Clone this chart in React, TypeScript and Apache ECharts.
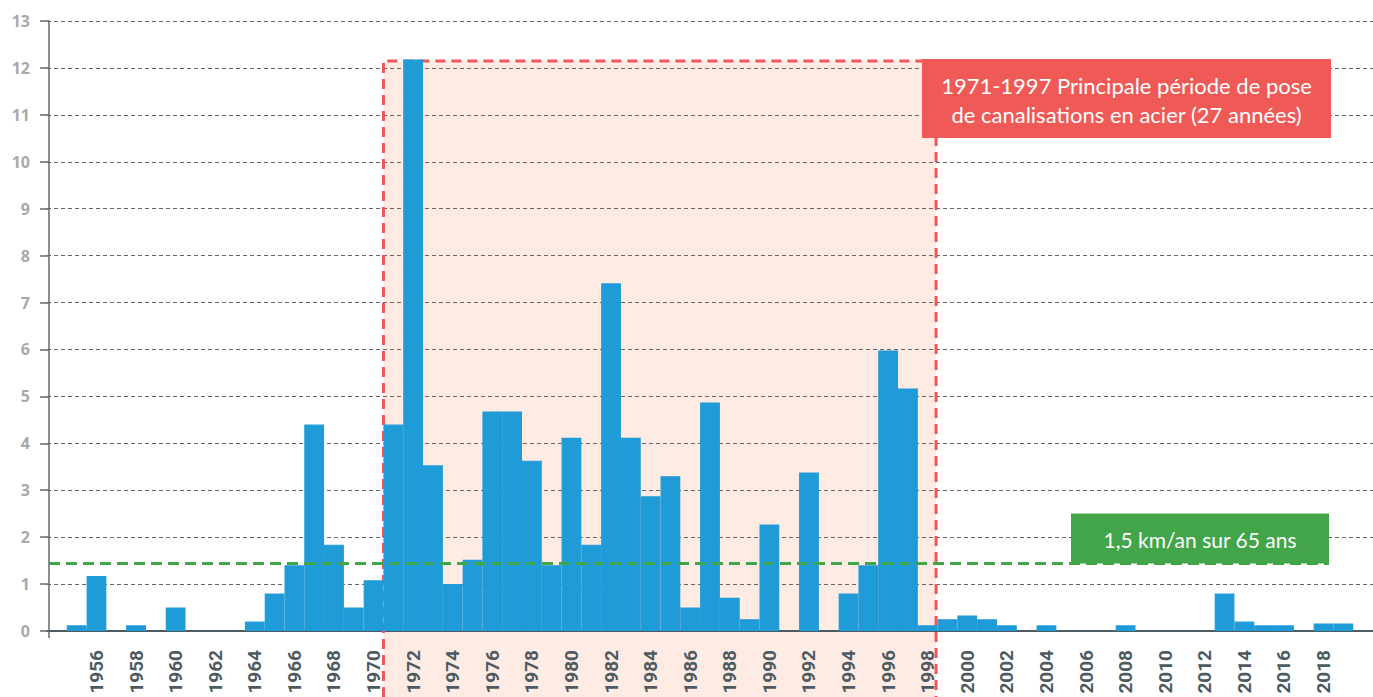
import React, { useEffect, useRef } from "react";
import * as echarts from "echarts";

const years = [
  "1955", "1956", "1957", "1958", "1959", "1960", "1961", "1962", "1963", "1964",
  "1965", "1966", "1967", "1968", "1969", "1970", "1971", "1972", "1973", "1974",
  "1975", "1976", "1977", "1978", "1979", "1980", "1981", "1982", "1983", "1984",
  "1985", "1986", "1987", "1988", "1989", "1990", "1991", "1992", "1993", "1994",
  "1995", "1996", "1997", "1998", "1999", "2000", "2001", "2002", "2003", "2004",
  "2005", "2006", "2007", "2008", "2009", "2010", "2011", "2012", "2013", "2014",
  "2015", "2016", "2017", "2018", "2019",
];

const kmPerYear = [
  0.12, 1.17, 0, 0.12, 0, 0.5, 0, 0, 0, 0.2,
  0.8, 1.4, 4.4, 1.84, 0.5, 1.08, 4.4, 12.18, 3.53, 1.0,
  1.52, 4.68, 4.68, 3.63, 1.4, 4.12, 1.84, 7.41, 4.12, 2.87,
  3.3, 0.5, 4.87, 0.71, 0.25, 2.27, 0, 3.38, 0, 0.8,
  1.4, 5.98, 5.17, 0.12, 0.25, 0.33, 0.25, 0.12, 0, 0.12,
  0, 0, 0, 0.12, 0, 0, 0, 0, 0.8, 0.2,
  0.12, 0.12, 0, 0.16, 0.16,
];

// padding categories at both ends of the axis (empty years)
const padStart = "1954";
const padEnd = "2020";

const yTicks = [0, 13, 1]; // min, max, interval
const periodStart = "1971";
const periodEnd = "1998";
const periodTop = 12.15;
const averageLine = 1.44;

const periodLabel = "1971-1997 Principale période de pose\nde canalisations en acier (27 années)";
const averageLabel = "1,5 km/an sur 65 ans";

export default function App() {
  const ref = useRef<HTMLDivElement>(null);

  useEffect(() => {
    const chart = echarts.init(ref.current!, null, { renderer: "svg" });
    const cats = [padStart, ...years, padEnd];
    const data = [null, ...kmPerYear.map((v) => (v === 0 ? null : v)), null];

    chart.setOption({
      animation: false,
      grid: { left: 47, top: 21, width: 1333, height: 610, containLabel: false },
      xAxis: {
        type: "category",
        data: cats,
        boundaryGap: true,
        axisLine: { show: true, lineStyle: { color: "#4d5c62", width: 2 } },
        axisTick: { show: false },
        splitLine: { show: false },
        axisLabel: {
          rotate: 90,
          margin: 19,
          interval: (_i: number, v: string) => {
            const y = Number(v);
            return y >= 1956 && y <= 2018 && y % 2 === 0;
          },
          color: "#4d5b61",
          fontFamily: "Roboto",
          fontWeight: "bold",
          fontSize: 19,
        },
      },
      yAxis: {
        type: "value",
        min: yTicks[0],
        max: yTicks[1],
        interval: yTicks[2],
        offset: -2,
        axisLine: { show: true, lineStyle: { color: "#5c6b71", width: 1.5 } },
        axisTick: { show: true, length: 9, lineStyle: { color: "#5c6b71", width: 1.5 } },
        splitLine: {
          show: true,
          lineStyle: { color: "#666666", width: 1, type: [4, 3] },
        },
        axisLabel: {
          margin: 19,
          color: "#a9a9a9",
          fontFamily: "Open Sans",
          fontWeight: "bold",
          fontSize: 16,
        },
      },
      series: [
        {
          type: "bar",
          data,
          barWidth: "100%",
          barCategoryGap: 0,
          itemStyle: { color: "#1f9bd7", borderColor: "#1f9bd7", borderWidth: 1.2 },
          z: 2,
        },
      ],
    });

    const pt = (cat: string, v: number) =>
      chart.convertToPixel({ gridIndex: 0 }, [cat, v]) as number[];

    const idx = (y: string) => cats.indexOf(y);
    const left = (pt(cats[idx(periodStart) - 1], 0)[0] + pt(periodStart, 0)[0]) / 2;
    const right = (pt(periodEnd, 0)[0] + pt(cats[idx(periodEnd) + 1], 0)[0]) / 2 - 1.5;
    const top = pt(periodStart, periodTop)[1];
    const zeroY = pt(padStart, 0)[1];
    const bottom = 697;
    const avgY = pt(padStart, averageLine)[1];
    const axisX = 49;

    const greenBox = { x: 1071, w: 258, h: 50 };
    const redBox = { x: 922, y: 59, w: 409, h: 79 };

    const redDash = { stroke: "#ef5656", lineWidth: 3, lineDash: [10, 6] };

    chart.setOption({
      graphic: [
        {
          type: "rect",
          z: -1,
          shape: { x: left, y: top, width: right - left, height: bottom - top },
          style: { fill: "#fdebe4" },
          silent: true,
        },
        {
          type: "line",
          z: 1,
          shape: { x1: axisX, y1: zeroY, x2: axisX, y2: zeroY + 7 },
          style: { stroke: "#5c6b71", lineWidth: 1.5 },
          silent: true,
        },
        {
          type: "polyline",
          z: 1,
          shape: {
            points: [
              [left, bottom],
              [left, top],
              [right, top],
              [right, bottom],
            ],
          },
          style: { ...redDash, fill: null },
          silent: true,
        },
        {
          type: "line",
          z: 5,
          shape: { x1: axisX, y1: avgY, x2: greenBox.x + greenBox.w, y2: avgY },
          style: { stroke: "#3fa74a", lineWidth: 3, lineDash: [11, 6] },
          silent: true,
        },
        {
          type: "rect",
          z: 6,
          shape: { x: greenBox.x, y: avgY - greenBox.h, width: greenBox.w, height: greenBox.h },
          style: { fill: "#42a54a" },
          silent: true,
        },
        {
          type: "text",
          z: 7,
          x: greenBox.x + greenBox.w / 2,
          y: avgY - greenBox.h / 2 + 1,
          style: {
            text: averageLabel,
            fill: "#ffffff",
            font: "21px Lato",
            align: "center",
            verticalAlign: "middle",
          },
          silent: true,
        },
        {
          type: "rect",
          z: 6,
          shape: { x: redBox.x, y: redBox.y, width: redBox.w, height: redBox.h },
          style: { fill: "#f05a56" },
          silent: true,
        },
        {
          type: "text",
          z: 7,
          x: redBox.x + redBox.w / 2,
          y: redBox.y + redBox.h / 2 + 1,
          style: {
            text: periodLabel,
            fill: "#ffffff",
            font: "22px Lato",
            lineHeight: 29,
            align: "center",
            verticalAlign: "middle",
          },
          silent: true,
        },
      ],
    });

    return () => chart.dispose();
  }, []);

  return (
    <div
      ref={ref}
      style={{ position: "fixed", left: 0, top: 0, width: 1373, height: 697, background: "#ffffff" }}
    />
  );
}
